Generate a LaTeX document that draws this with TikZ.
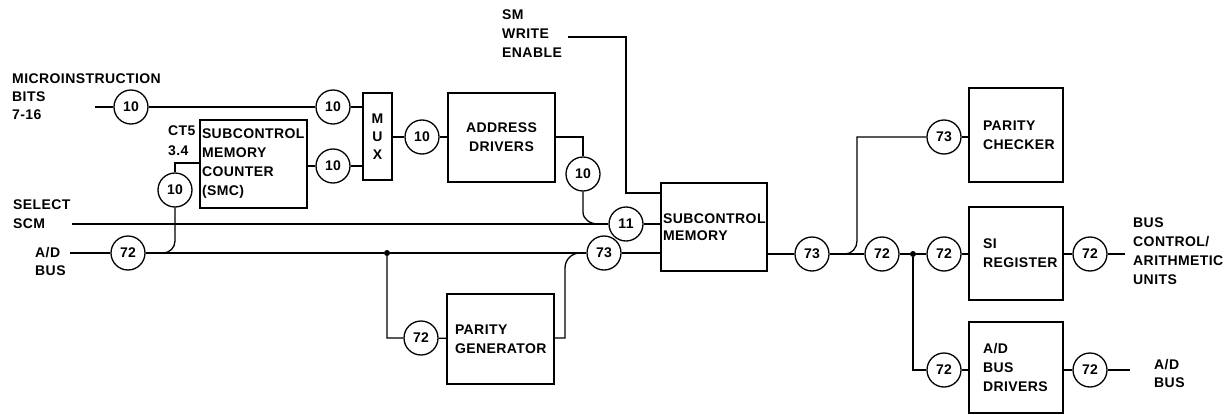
\documentclass[tikz,border=0pt]{standalone}
\usepackage{fontspec}
\setmainfont{Liberation Sans}[LetterSpace=3]
\begin{document}
\begin{tikzpicture}[x=1pt,y=-1pt,
  every node/.style={font=\bfseries\fontsize{14}{19}\selectfont},
  wire/.style={draw,line width=1.3pt},
  num/.style={circle,draw,line width=1.3pt,minimum size=34pt,inner sep=0pt},
  blk/.style={draw,line width=1.3pt,inner ysep=0pt,align=left},
  lbl/.style={anchor=west,align=left,inner sep=0pt},
  dotn/.style={circle,fill,inner sep=0pt,minimum size=6pt}]
\useasboundingbox (0,0) rectangle (1232,415);
% boxes
\node[blk,minimum height=88pt,inner xsep=2pt,text width=103pt] (smc) at (253.5,164) {SUBCONTROL\\MEMORY\\COUNTER\\(SMC)};
\node[blk,minimum height=87pt,minimum width=29pt,inner xsep=0pt,align=center,font=\bfseries\fontsize{14}{18}\selectfont] (mux) at (377.5,136.5) {M\\U\\X};
\node[blk,minimum height=89pt,minimum width=107pt,inner xsep=0pt,align=center] (ad) at (501.5,137.5) {ADDRESS\\DRIVERS};
\node[blk,minimum height=88pt,inner xsep=2pt,text width=102pt,font=\bfseries\fontsize{14}{17.5}\selectfont] (scm) at (714,227) {SUBCONTROL\\MEMORY};
\node[blk,minimum height=90pt,inner xsep=8pt,text width=91pt] (pg) at (500.5,339) {PARITY\\GENERATOR};
\node[blk,minimum height=94pt,inner xsep=14pt,text width=66pt] (pc) at (1016,135) {PARITY\\CHECKER};
\node[blk,minimum height=93pt,inner xsep=14pt,text width=66pt] (si) at (1016,253.5) {SI\\REGISTER};
\node[blk,minimum height=91pt,inner xsep=14pt,text width=66pt] (adbd) at (1016,367.5) {A/D\\BUS\\DRIVERS};
% circles
\node[num] (c1) at (131,107) {10};
\node[num] (c2) at (333,107) {10};
\node[num] (c3) at (333,166) {10};
\node[num] (c4) at (175,190) {10};
\node[num] (c5) at (128,253) {72};
\node[num] (c6) at (422,137) {10};
\node[num] (c7) at (583,174) {10};
\node[num] (c8) at (626,224) {11};
\node[num] (c9) at (604,253) {73};
\node[num] (c10) at (421,338) {72};
\node[num] (c11) at (812,254) {73};
\node[num] (c12) at (944,137) {73};
\node[num] (c13) at (882,254) {72};
\node[num] (c14) at (944,254) {72};
\node[num] (c15) at (1090,254) {72};
\node[num] (c16) at (944,370) {72};
\node[num] (c17) at (1090,370) {72};
% labels
\node[lbl,font=\bfseries\fontsize{14}{18}\selectfont] (lmicro) at (12,97) {MICROINSTRUCTION\\BITS\\7-16};
\node[lbl,font=\bfseries\fontsize{14}{20}\selectfont] (lct) at (168,141) {CT5\\3.4};
\node[lbl] (lsel) at (13,214) {SELECT\\SCM};
\node[lbl,font=\bfseries\fontsize{14}{18}\selectfont] (lad) at (35,261) {A/D\\BUS};
\node[lbl] (lsm) at (502,34) {SM\\WRITE\\ENABLE};
\node[lbl] (lbus) at (1133,251.5) {BUS\\CONTROL/\\ARITHMETIC\\UNITS};
\node[lbl,font=\bfseries\fontsize{14}{18}\selectfont] (lad2) at (1154,373) {A/D\\BUS};
% coordinates
\coordinate (m0) at (95,107);
\coordinate (s0) at (72,224);
\coordinate (a0) at (70,253);
\coordinate (w0) at (568,37);
\coordinate (o1) at (1125,254);
\coordinate (o2) at (1130,370);
\node[dotn] (d1) at (387,253) {};
\node[dotn] (d2) at (913,254) {};
% wires
\draw[wire] (m0) -- (c1) -- (c2) -- (c2 -| mux.west);
\draw[wire] (smc.east |- c3) -- (c3) -- (c3 -| mux.west);
\draw[wire] (smc.west |- 0,163) -- (175,163) -- (c4.north);
\draw[wire] (c4.south) -- (175,241) to[out=-90,in=0] (163,253);
\draw[wire] (s0) -- (c8);
\draw[wire] (c8) -- (c8 -| scm.west);
\draw[wire] (a0) -- (c5) -- (d1) -- (c9) -- (c9 -| scm.west);
\draw[wire] (d1) |- (c10) -- (pg);
\draw[wire] (pg.east |- c10) -- (565,338) -- (565,268) to[out=90,in=180] (580,253);
\draw[wire] (mux.east |- c6) -- (c6) -- (c6 -| ad.west);
\draw[wire] (ad.east |- c6) -| (c7.north);
\draw[wire] (c7.south) -- (583,212) to[out=-90,in=180] (598,224);
\draw[wire] (w0) -- (626,37) -- (626,193) -- (scm.west |- 0,193);
\draw[wire] (scm.east |- c11) -- (c11) -- (c13) -- (d2) -- (c14) -- (c14 -| si.west);
\draw[wire] (845,254) to[out=0,in=-90] (857,241) |- (c12);
\draw[wire] (c12) -- (c12 -| pc.west);
\draw[wire] (si.east |- c15) -- (c15) -- (o1);
\draw[wire] (d2) |- (c16) -- (c16 -| adbd.west);
\draw[wire] (adbd.east |- c17) -- (c17) -- (o2);
\end{tikzpicture}
\end{document}
